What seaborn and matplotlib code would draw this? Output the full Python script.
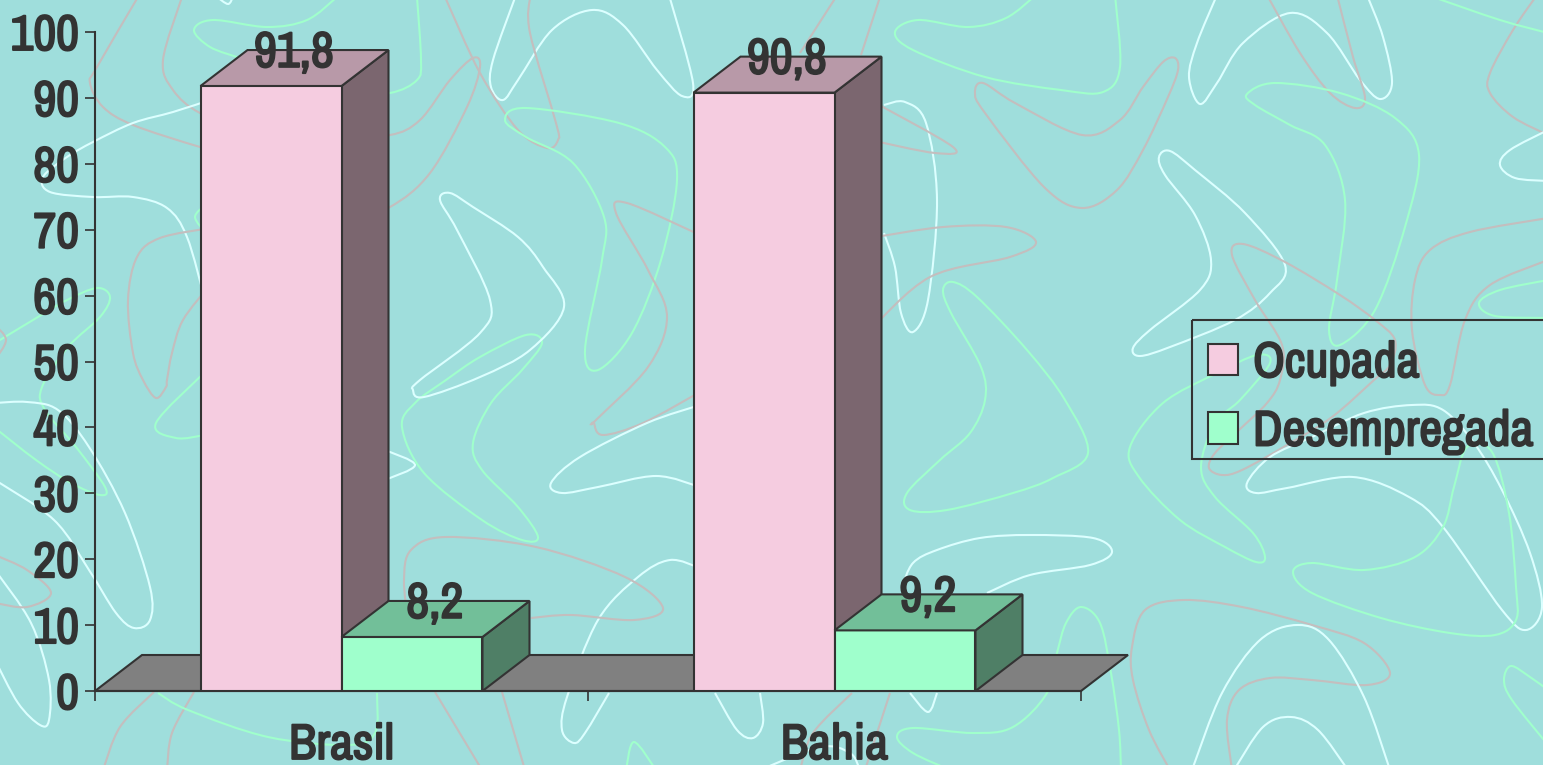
import numpy as np
import pandas as pd
import matplotlib
matplotlib.use("Agg")
import matplotlib.pyplot as plt
from matplotlib.path import Path
from matplotlib.patches import PathPatch, Polygon, Rectangle
from matplotlib import font_manager as fm
from matplotlib import patheffects as pe
import seaborn as sns

# data
locais = ["Brasil", "Bahia"]
condicoes = ["Ocupada", "Desempregada"]
ocupada = [91.8, 90.8]
desempregada = [8.2, 9.2]
y_ticks = list(range(0, 101, 10))

W, H = 1543, 765
BG = "#9FDEDC"
INK = "#333333"
instaladas = {f.name for f in fm.fontManager.ttflist}
FONT = [f for f in ["Archivo Narrow", "Roboto Condensed", "PT Sans Narrow", "Liberation Sans"] if f in instaladas] + ["DejaVu Sans"]
FS = 36
FRONT = {"Ocupada": "#F5CCE0", "Desempregada": "#9FFFCC"}
TOP = {"Ocupada": "#B899A8", "Desempregada": "#72BF99"}
SIDE = {"Ocupada": "#7B666F", "Desempregada": "#4F7F66"}

# background doodles, traced in image pixels
WHITE, GREEN, PINK = "#DCFFFF", "#A0FFCC", "#C4BEBE"
doodles = [
    (WHITE, False, [(1217,-5),(1197,43),(1189,77),(1200,104),(1217,83),(1243,43),(1290,13),(1327,33),(1360,80),(1380,99),(1392,83),(1383,37),(1367,-5)]),
    (PINK, False, [(1267,-5),(1300,53),(1330,93),(1355,108),(1365,98),(1353,57),(1337,-5)]),
    (GREEN, True, [(1247,94),(1275,83),(1340,93),(1395,118),(1419,155),(1405,227),(1375,310),(1340,345),(1329,330),(1337,280),(1345,200),(1325,145),(1290,125),(1255,105)]),
    (WHITE, True, [(1159,157),(1170,151),(1195,170),(1245,213),(1285,265),(1270,293),(1235,320),(1170,347),(1140,356),(1133,348),(1150,330),(1200,290),(1211,260),(1195,215),(1165,175)]),
    (PINK, True, [(1232,255),(1243,244),(1285,262),(1340,295),(1375,320),(1395,340),(1390,365),(1374,380),(1332,417),(1287,445),(1242,470),(1222,475),(1209,468),(1215,453),(1239,430),(1267,403),(1280,380),(1282,345),(1255,300)]),
    (PINK, False, [(1548,218),(1470,232),(1430,250),(1415,280),(1412,330),(1425,385),(1440,395),(1450,385),(1465,320),(1490,285),(1548,260)]),
    (GREEN, False, [(1548,280),(1500,290),(1479,303),(1495,316),(1548,318)]),
    (PINK, False, [(1537,-5),(1513,30),(1490,73),(1490,93),(1513,117),(1548,135)]),
    (WHITE, False, [(1548,130),(1510,150),(1500,165),(1515,178),(1548,181)]),
    (GREEN, False, [(1433,-3),(1500,20),(1548,33)]),
    (PINK, True, [(975,93),(983,83),(1015,103),(1082,135),(1120,120),(1143,87),(1163,62),(1175,58),(1178,70),(1168,97),(1143,150),(1117,190),(1082,208),(1044,187),(985,113)]),
    (GREEN, True, [(1257,355),(1217,373),(1163,403),(1130,447),(1139,477),(1180,520),(1225,547),(1256,562),(1265,557),(1253,533),(1215,497),(1201,467),(1215,423),(1240,400),(1270,363)]),
    (WHITE, True, [(1247,483),(1256,493),(1287,488),(1353,477),(1409,497),(1443,527),(1502,610),(1526,630),(1542,607),(1530,553),(1502,490),(1474,443),(1443,410),(1412,405),(1364,413),(1312,437),(1270,457)]),
    (GREEN, True, [(1293,572),(1312,563),(1364,570),(1415,557),(1443,527),(1454,487),(1467,447),(1492,452),(1509,513),(1516,587),(1516,620),(1495,635),(1450,633),(1381,618),(1312,593)]),
    (PINK, False, [(1170,770),(1149,730),(1133,680),(1132,647),(1145,610),(1184,600),(1242,607),(1312,625),(1364,643),(1390,673),(1367,685),(1312,680),(1270,678),(1239,690),(1227,720),(1232,770)]),
    (WHITE, False, [(1192,770),(1222,693),(1260,640),(1298,625),(1329,640),(1364,697),(1390,770)]),
    (WHITE, False, [(1234,770),(1263,727),(1291,717),(1318,730),(1348,770)]),
    (GREEN, False, [(1548,745),(1512,700),(1504,680),(1511,666),(1530,677),(1548,690)]),
    (GREEN, False, [(1121,770),(1119,730),(1111,673),(1100,623),(1081,607),(1066,623),(1057,653),(1047,693),(1013,727),(973,733),(913,728),(897,737),(913,753),(950,770)]),
    (WHITE, False, [(987,593),(1030,575),(1090,565),(1112,552),(1093,538),(1030,535),(980,538),(937,550),(913,563),(902,587)]),
    (GREEN, True, [(943,290),(953,282),(977,297),(1027,350),(1065,400),(1088,453),(1053,478),(1013,493),(947,510),(910,510),(907,493),(940,460),(970,433),(985,400),(981,367),(951,313)]),
    (GREEN, False, [(1036,-5),(1006,18),(968,27),(918,20),(895,32),(913,50),(985,77),(1061,90),(1103,92),(1120,67),(1115,-5)]),
    (WHITE, False, [(884,105),(905,102),(926,123),(937,200),(928,300),(913,332),(901,313),(895,267),(884,233)]),
    (PINK, False, [(870,100),(953,147),(935,153),(870,140)]),
    (PINK, False, [(870,238),(943,227),(1006,227),(1036,242),(1010,257),(930,277),(870,330)]),
    (PINK, False, [(836,-3),(800,53)]),
    (PINK, False, [(880,-3),(861,55)]),
    (PINK, False, [(852,693),(813,733),(800,770)]),
    (PINK, False, [(890,693),(865,770)]),
    (PINK, False, [(138,-3),(97,67),(90,83),(103,107),(133,125),(200,147),(250,160)]),
    (PINK, False, [(182,-3),(163,60),(173,90),(200,113),(250,130)]),
    (PINK, False, [(340,135),(390,135),(420,120),(450,80),(473,58),(480,67),(467,107),(430,173),(390,207),(340,225)]),
    (GREEN, False, [(337,-3),(307,20),(267,27),(213,20),(194,30),(210,47),(240,58)]),
    (GREEN, False, [(340,95),(390,93),(417,80),(421,60),(417,-3)]),
    (WHITE, False, [(217,-3),(228,4),(233,-3)]),
    (WHITE, False, [(210,100),(173,112),(133,123),(93,142),(67,157),(43,177),(50,192),(93,197),(133,197),(167,208),(187,237),(205,300)]),
    (PINK, False, [(210,228),(160,238),(137,257),(128,300),(133,353),(143,380),(156,398),(166,387),(167,380),(172,353),(183,320),(210,285)]),
    (GREEN, False, [(205,205),(195,217),(205,232)]),
    (GREEN, False, [(-5,343),(33,320),(67,300),(97,288),(110,297),(100,317),(68,347),(42,387),(45,410),(76,447),(105,487),(100,495),(71,483),(36,460),(-5,428)]),
    (GREEN, False, [(205,372),(156,423),(176,438),(205,435)]),
    (PINK, False, [(-5,325),(6,340),(-5,360)]),
    (WHITE, False, [(-5,403),(27,402),(58,410),(89,447),(125,513),(150,587),(150,620),(134,628),(116,613),(89,570),(54,520),(-5,480)]),
    (WHITE, False, [(-5,570),(31,623),(49,680),(49,720),(40,725),(18,703),(-5,660)]),
    (PINK, False, [(-5,555),(27,570),(51,593),(27,607),(-5,603)]),
    (PINK, False, [(154,692),(120,727),(103,770)]),
    (PINK, False, [(194,692),(172,733),(167,770)]),
    (GREEN, False, [(158,693),(188,710),(268,737),(348,745),(375,733),(377,693)]),
    (PINK, False, [(435,692),(482,770)]),
    (PINK, False, [(502,692),(525,770)]),
    (WHITE, False, [(385,450),(415,465),(385,480)]),
    (GREEN, True, [(446,380),(480,357),(526,335),(542,343),(522,370),(491,403),(473,443),(482,470),(518,507),(538,537),(522,540),(482,520),(424,473),(402,427),(415,403)]),
    (WHITE, True, [(440,200),(450,193),(473,207),(518,237),(543,267),(564,307),(530,350),(480,377),(424,397),(413,390),(420,380),(480,333),(490,300),(457,230)]),
    (WHITE, False, [(516,-5),(493,60),(491,87),(503,100),(518,80),(552,30),(592,10),(623,25),(657,70),(682,96),(693,83),(669,-5)]),
    (PINK, False, [(530,-3),(530,33),(556,123),(558,140),(547,148),(518,130),(480,73),(445,-3)]),
    (GREEN, True, [(505,120),(526,108),(619,123),(665,147),(677,180),(661,260),(632,333),(598,370),(585,350),(602,260),(604,217),(573,163),(526,137)]),
    (PINK, False, [(700,235),(627,203),(616,213),(648,270),(667,317),(648,367),(596,420),(594,423),(603,435),(643,423),(700,392)]),
    (WHITE, False, [(700,405),(647,423),(580,457),(551,483),(562,493),(598,487),(656,476),(700,487)]),
    (WHITE, False, [(700,568),(670,560),(638,577),(598,620),(567,697),(562,730),(574,743),(585,733),(609,693)]),
    (PINK, False, [(531,618),(571,615),(634,620),(663,608),(625,577),(536,547),(446,537),(411,550),(404,580),(408,620)]),
    (GREEN, False, [(626,770),(634,742),(656,770)]),
    (WHITE, False, [(715,693),(737,730),(753,738),(763,723),(760,693)]),
    (WHITE, False, [(910,693),(928,712),(937,693)]),
    (WHITE, False, [(760,770),(820,747),(850,753),(860,770)]),
]


def smooth_path(pts, closed):
    # catmull-rom through the traced points, as bezier segments
    p = np.array(pts, dtype=float)
    n = len(p)
    verts = [p[0]]
    codes = [Path.MOVETO]
    for i in range(n if closed else n - 1):
        if closed:
            p0, p1, p2, p3 = p[(i - 1) % n], p[i], p[(i + 1) % n], p[(i + 2) % n]
        else:
            p0, p1, p2, p3 = p[max(i - 1, 0)], p[i], p[i + 1], p[min(i + 2, n - 1)]
        verts += [p1 + (p2 - p0) / 6, p2 - (p3 - p1) / 6, p2]
        codes += [Path.CURVE4] * 3
    return Path(verts, codes)


sns.set_theme(style="white")
plt.rcParams["font.family"] = FONT
plt.rcParams["font.weight"] = "bold"

fig = plt.figure(figsize=(W / 100, H / 100), dpi=100, facecolor=BG)

bg = fig.add_axes([0, 0, 1, 1], zorder=0)
bg.set_xlim(0, W)
bg.set_ylim(H, 0)
bg.set_axis_off()
for cor, fechado, pts in doodles:
    bg.add_patch(PathPatch(smooth_path(pts, fechado), fc="none", ec=cor, lw=1.5))

# legend frame runs off the right edge of the picture
bg.add_patch(Rectangle((1192, 320), 400, 139, fc="none", ec=INK, lw=1.5, zorder=5))

# plot area: x 95-1081, y 32-691 in image pixels
ax = fig.add_axes([95 / W, 1 - 691 / H, 986 / W, 659 / H], zorder=1)
ax.patch.set_alpha(0)

df = pd.DataFrame({
    "local": locais * 2,
    "condicao": [condicoes[0]] * 2 + [condicoes[1]] * 2,
    "valor": ocupada + desempregada,
})
sns.barplot(data=df, x="local", y="valor", hue="condicao", hue_order=condicoes,
            palette=FRONT, saturation=1, width=0.572, gap=0, edgecolor=INK,
            linewidth=1.5, ax=ax, zorder=3)
ax.set_xlim(-0.5, 1.5)
ax.set_ylim(0, 100)
bars = [b for b in ax.patches if b.get_height() > 0]

# depth of the fake 3d, in data units
dx = 47 / 493
dy = 36 / 6.59
edge = dict(ec=INK, lw=1.5, clip_on=False, joinstyle="miter")

ax.add_patch(Polygon([(-0.5, 0), (1.5, 0), (1.5 + dx, dy), (-0.5 + dx, dy)],
                     fc="#808080", zorder=1, **edge))

for b in bars:
    x0, w, h = b.get_x(), b.get_width(), b.get_height()
    nome = "Ocupada" if h > 50 else "Desempregada"
    z = 2 if nome == "Ocupada" else 4
    ax.add_patch(Polygon([(x0 + w, 0), (x0 + w + dx, dy), (x0 + w + dx, h + dy), (x0 + w, h)],
                         fc=SIDE[nome], zorder=z, **edge))
    ax.add_patch(Polygon([(x0, h), (x0 + dx, h + dy), (x0 + w + dx, h + dy), (x0 + w, h)],
                         fc=TOP[nome], zorder=z, **edge))
    ax.annotate(f"{h:.1f}".replace(".", ","), (x0 + w / 2, h), xytext=(16.5, 23.5),
                textcoords="offset points", ha="center", va="center", fontsize=FS,
                fontweight="bold", color=INK, zorder=6, annotation_clip=False)

ax.set_xlabel("")
ax.set_ylabel("")
sns.despine(ax=ax)
for s in ("left", "bottom"):
    ax.spines[s].set_color(INK)
    ax.spines[s].set_linewidth(1.5)
ax.set_yticks(y_ticks, labels=[str(t) for t in y_ticks])
ax.set_xticks([-0.5, 0.5, 1.5], labels=["", "", ""])
ax.set_xticks([0, 1], labels=locais, minor=True)
ax.tick_params(axis="y", left=True, length=7.5, width=1.2, color=INK, pad=4, labelsize=FS, labelcolor=INK)
ax.tick_params(axis="x", which="major", length=7.5, width=1.2, color=INK, bottom=True)
ax.tick_params(axis="x", which="minor", length=0, pad=23, labelsize=FS, labelcolor=INK)

sns.move_legend(ax, loc="upper left", bbox_to_anchor=(1192 / W, 1 - 325 / H),
                bbox_transform=fig.transFigure, title=None, frameon=False, fontsize=FS,
                borderpad=0.32, borderaxespad=0, handlelength=0.6, handleheight=0.6,
                handletextpad=0.3, labelspacing=0.47, labelcolor=INK)

# narrow font only comes in regular, thicken it to look bold
grosso = [pe.withStroke(linewidth=1.4, foreground=INK)]
textos = list(ax.texts) + list(ax.get_legend().get_texts())
textos += ax.get_yticklabels() + ax.get_xticklabels(minor=True)
for t in textos:
    t.set_path_effects(grosso)

fig.savefig("out.png", dpi=100, facecolor=BG)
